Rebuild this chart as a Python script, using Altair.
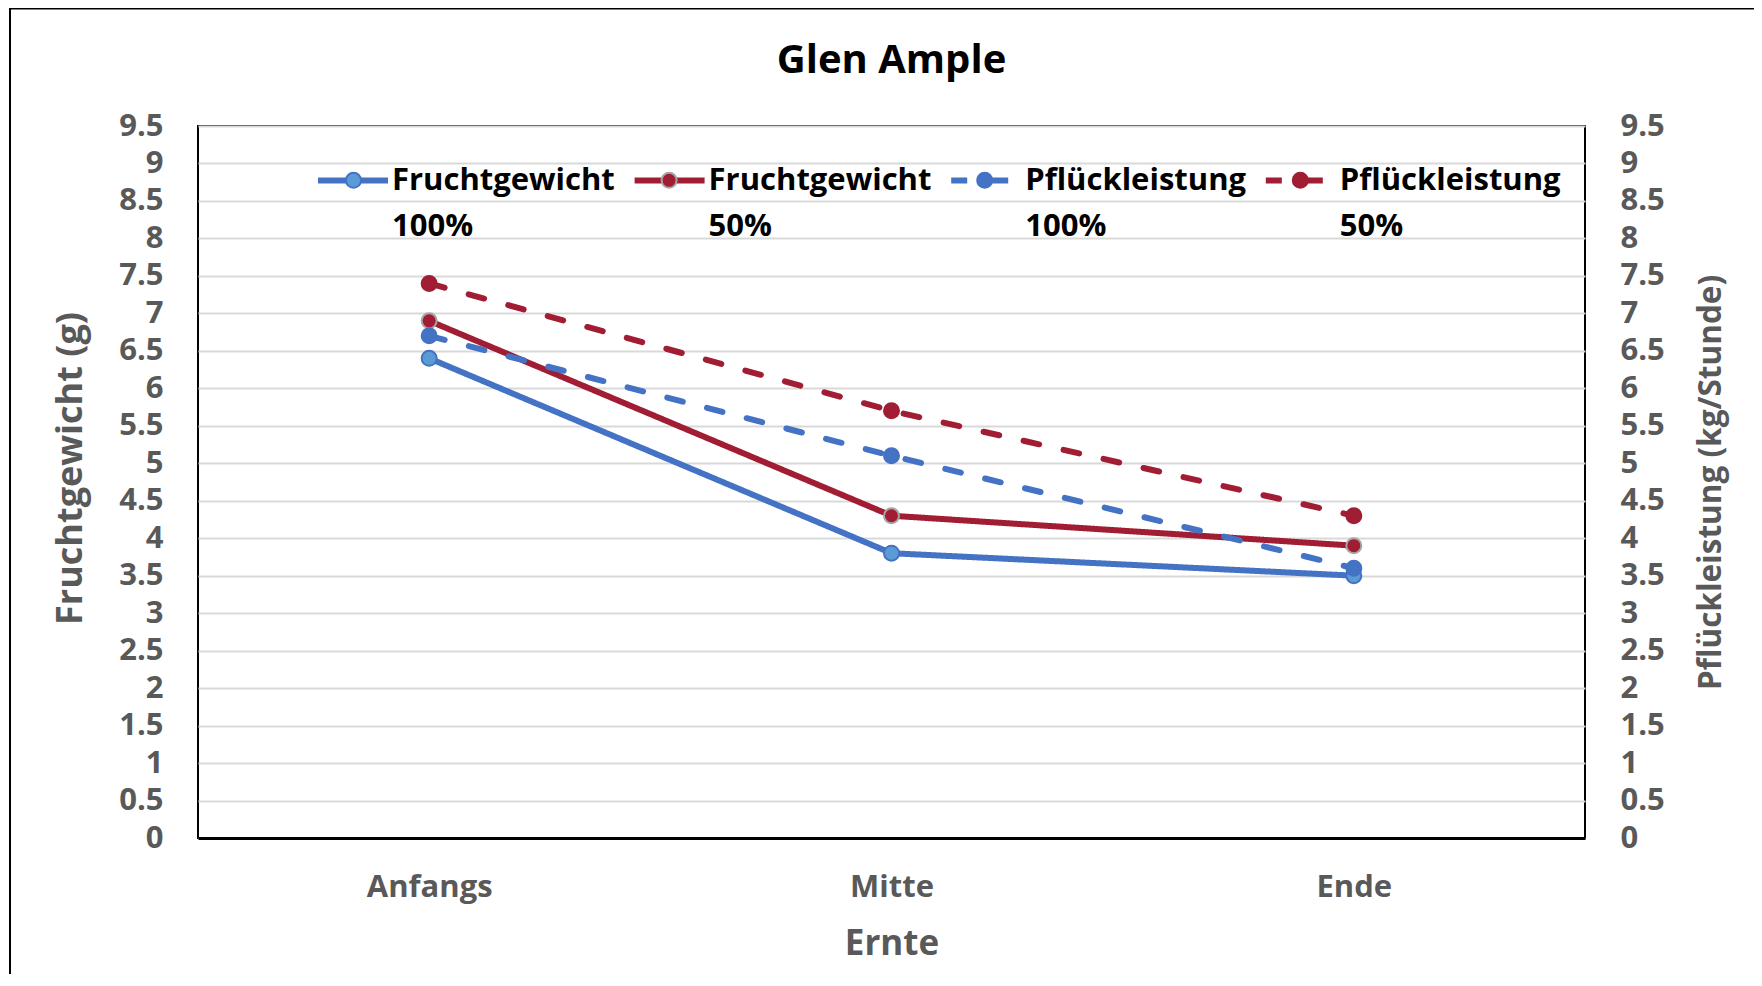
import altair as alt
import pandas as pd

# ---- data ----
categories = ["Anfangs", "Mitte", "Ende"]
fruchtgewicht_100 = [6.4, 3.8, 3.5]
fruchtgewicht_50 = [6.9, 4.3, 3.9]
pflueckleistung_100 = [6.7, 5.1, 3.6]
pflueckleistung_50 = [7.4, 5.7, 4.3]
series_names = ["Fruchtgewicht|100%", "Fruchtgewicht|50%",
                "Pflückleistung|100%", "Pflückleistung|50%"]
series_axis = ["links", "links", "rechts", "rechts"]
y_ticks = [0, 0.5, 1, 1.5, 2, 2.5, 3, 3.5, 4, 4.5, 5, 5.5, 6, 6.5, 7, 7.5, 8, 8.5, 9, 9.5]

marker_names = ["#" + n for n in series_names]

rows = []
for name, mname, vals, ax in zip(series_names, marker_names,
                                 [fruchtgewicht_100, fruchtgewicht_50, pflueckleistung_100, pflueckleistung_50],
                                 series_axis):
    for c, v in zip(categories, vals):
        rows.append({"Ernte": c, "Serie": name, "Marker": mname, "Achse": ax, "Wert": v})
df = pd.DataFrame(rows)

# ---- styles ----
BLUE = "#4472C4"
LBLUE = "#5B9BD5"
RED = "#A11D33"
GRAY = "#A5A5A5"
TXT = "#595959"
FONT = "Open Sans"

line_colors = [BLUE, RED, BLUE, RED]
line_dashes = [[1, 0], [1, 0], [16, 25], [16, 25]]
marker_fill = [LBLUE, RED, BLUE, RED]
marker_stroke = [BLUE, GRAY, BLUE, RED]

LINE_W = 6
LEG_SYM = 70            # legend line length
MARK_D = 15             # marker diameter
MARK_SW = 2
COL_PAD = 7.6

legend_line = alt.Legend(
    title=None, orient="none", legendX=117, legendY=16.5,
    direction="horizontal",
    symbolType="stroke", symbolSize=LEG_SYM * LEG_SYM, symbolStrokeWidth=LINE_W,
    labelExpr="split(datum.label, '|')", labelFont=FONT, labelFontSize=31,
    labelFontWeight="bold", labelColor="black", labelOffset=1, columnPadding=COL_PAD,
    labelLimit=500, padding=0,
)
# marker part of the legend symbols (drawn on top of the line symbols, no labels)
legend_point = alt.Legend(
    title=None, orient="none", legendX=109, legendY=38.6,
    direction="horizontal",
    symbolType="circle", symbolSize=MARK_D * MARK_D, symbolStrokeWidth=MARK_SW, symbolOpacity=1,
    symbolOffset=31,
    labelExpr="''", labelFont=FONT, labelFontSize=31,
    labelFontWeight="bold", labelColor="black",
    labelOffset=246, columnPadding=COL_PAD, labelLimit=500, padding=0,
)

x_enc = alt.X(
    "Ernte:N", sort=categories, title="Ernte",
    axis=alt.Axis(labelAngle=0, ticks=False, domain=True, domainColor="black", domainWidth=3,
                  labelFont=FONT, labelFontSize=31, labelFontWeight="bold", labelColor=TXT,
                  labelPadding=34, titleFont=FONT, titleFontSize=35, titleFontWeight="bold",
                  titleColor=TXT, titlePadding=24),
)

color_enc = alt.Color("Serie:N", scale=alt.Scale(domain=series_names, range=line_colors), legend=legend_line)
dash_enc = alt.StrokeDash("Serie:N", scale=alt.Scale(domain=series_names, range=line_dashes), legend=legend_line)
fill_enc = alt.Fill("Marker:N", scale=alt.Scale(domain=marker_names, range=marker_fill), legend=legend_point)
stroke_enc = alt.Stroke("Marker:N", scale=alt.Scale(domain=marker_names, range=marker_stroke), legend=legend_point)

def y_axis(side):
    common = dict(values=y_ticks, format="~g", ticks=False, domain=False, labelOverlap=False,
                  labelFlush=False, labelPadding=35, labelFont=FONT, labelFontSize=31,
                  labelFontWeight="bold", labelColor=TXT, titleFont=FONT,
                  titleFontWeight="bold", titleColor=TXT)
    if side == "left":
        return alt.Axis(orient="left", grid=True, gridColor="#D9D9D9", gridWidth=2,
                        title="Fruchtgewicht (g)", titleFontSize=36, titlePadding=29,
                        titleY=342, **common)
    return alt.Axis(orient="right", grid=False, title="Pflückleistung (kg/Stunde)",
                    titleFontSize=31.5, titleAngle=270, titleBaseline="top", titlePadding=31, **common)

def series_layer(axis_key, side):
    base = alt.Chart(df).transform_filter(alt.datum.Achse == axis_key)
    y = alt.Y("Wert:Q", scale=alt.Scale(domain=[0, 9.5], nice=False, zero=True), axis=y_axis(side))
    lines = base.mark_line(strokeWidth=LINE_W, strokeCap="round", strokeJoin="round").encode(
        x=x_enc, y=y, color=color_enc, strokeDash=dash_enc, detail="Serie:N")
    points = base.mark_point(filled=True, size=MARK_D * MARK_D, strokeWidth=MARK_SW, opacity=1,
                             shape="circle").encode(
        x=x_enc, y=y, fill=fill_enc, stroke=stroke_enc)
    return alt.layer(lines, points)

left_layer = series_layer("links", "left")
right_layer = series_layer("rechts", "right")

frame_data = alt.Data(values=[{"f": 1}])
frame_top = alt.Chart(frame_data).mark_rule(color="black", strokeWidth=2).encode(
    x=alt.value(-188), x2=alt.value(1556), y=alt.value(-117.5))
frame_left = alt.Chart(frame_data).mark_rule(color="black", strokeWidth=2).encode(
    x=alt.value(-188), y=alt.value(-118.5), y2=alt.value(860))

chart = alt.layer(left_layer, right_layer, frame_top, frame_left).resolve_scale(
    y="independent"
).properties(
    width=1387, height=712,
    title=alt.Title("Glen Ample", font=FONT, fontSize=40, fontWeight="bold", color="black",
                    anchor="middle", offset=-106, baseline="alphabetic"),
    padding={"left": 190, "top": 118, "right": 169, "bottom": 136},
    autosize=alt.AutoSizeParams(type="none"),
).configure(
    font=FONT,
    style={"guide-label": {"lineHeight": 46}},
).configure_view(
    stroke="black", strokeWidth=2
)

chart.save("out.html", embed_options={"renderer": "svg", "actions": False})
